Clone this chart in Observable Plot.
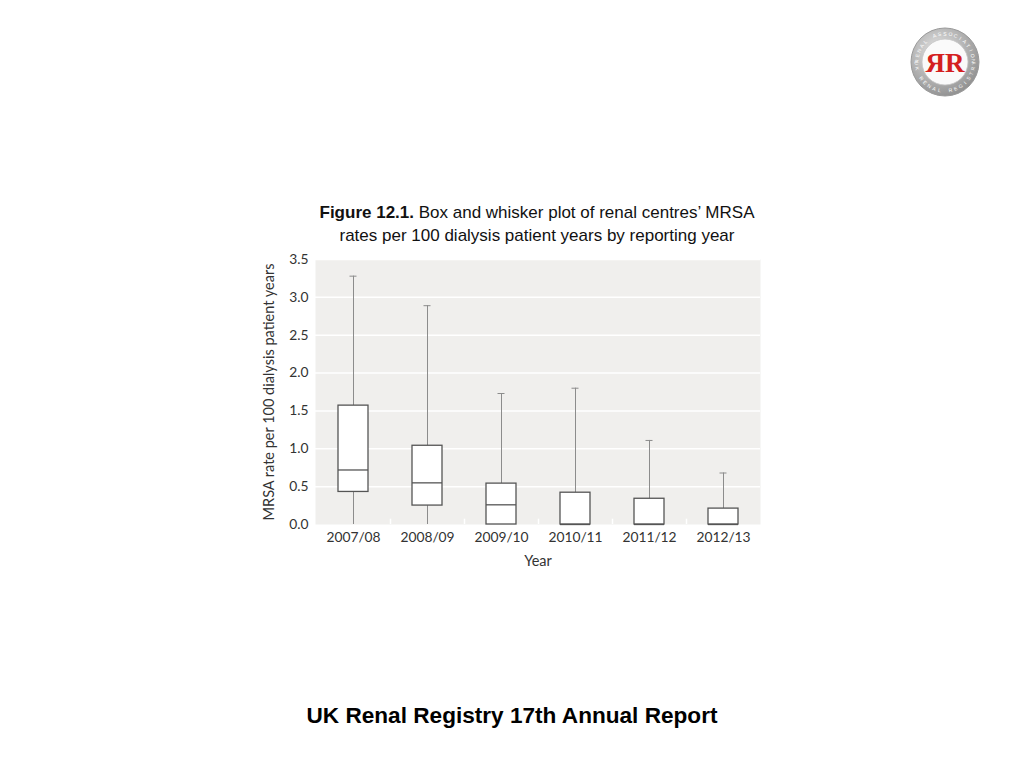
<!DOCTYPE html>
<html>
<head>
<meta charset="utf-8">
<script src="https://cdn.jsdelivr.net/npm/d3@7"></script>
<script src="https://cdn.jsdelivr.net/npm/@observablehq/plot@0.6"></script>
<style>
  html, body { margin: 0; padding: 0; background: #fff; }
  body { width: 1024px; height: 768px; position: relative; overflow: hidden; }
  #title { position: absolute; left: 237px; width: 600px; top: 201px; text-align: center;
           font-family: "Liberation Sans", Arial, sans-serif; font-size: 17px; line-height: 23px; color: #111; }
  #chart { position: absolute; left: 250px; top: 250px; }
  #footer { position: absolute; left: 0; width: 1024px; top: 703px; text-align: center;
            font-family: "Liberation Sans", Arial, sans-serif; font-weight: bold; font-size: 22.6px; color: #000; }
  #logo { position: absolute; left: 908px; top: 25px; }
</style>
</head>
<body>
<div id="title"><b>Figure 12.1.</b> Box and whisker plot of renal centres’ MRSA<br>rates per 100 dialysis patient years by reporting year</div>
<div id="chart"></div>
<div id="footer">UK Renal Registry 17th Annual Report</div>
<svg id="logo" width="74" height="74" viewBox="0 0 74 74">
  <defs>
    <radialGradient id="ring" cx="40%" cy="35%" r="70%">
      <stop offset="0%" stop-color="#e6e6e6"/>
      <stop offset="100%" stop-color="#8e8e8e"/>
    </radialGradient>
  </defs>
  <circle cx="37" cy="37" r="34" fill="url(#ring)" stroke="#9a9a9a" stroke-width="1"/>
  <circle cx="37" cy="37" r="23" fill="#fafafa" stroke="#c4c4c4" stroke-width="0.8"/>
  <g id="ringText" font-family="Liberation Sans, Arial" font-size="5" fill="#fdfdfd"></g>
  <text x="37" y="47" text-anchor="middle" font-family="Liberation Serif, Times New Roman, serif" font-weight="bold" font-size="27" fill="#d42020">ЯR</text>
</svg>
<script>
const years = ["2007/08", "2008/09", "2009/10", "2010/11", "2011/12", "2012/13"];
const whiskerLow = [0, 0, 0, 0, 0, 0];
const q1 = [0.43, 0.25, 0, 0, 0, 0];
const median = [0.72, 0.55, 0.26, 0, 0, 0];
const q3 = [1.57, 1.04, 0.54, 0.42, 0.34, 0.21];
const whiskerHigh = [3.28, 2.89, 1.73, 1.80, 1.11, 0.68];
const yTicks = [0, 0.5, 1.0, 1.5, 2.0, 2.5, 3.0, 3.5];
const logoTop = "RENAL ASSOCIATION";
const logoBottom = "UK RENAL REGISTRY";

// logo ring lettering, one letter per text element
(function () {
  const g = d3.select("#ringText");
  const r = 28.5, step = 11; // degrees per letter
  const place = (str, centerDeg, dir) => {
    const n = str.length;
    str.split("").forEach((ch, i) => {
      if (ch === " ") return;
      const a = centerDeg + dir * (i - (n - 1) / 2) * step;
      const rad = a * Math.PI / 180;
      const x = 37 + r * Math.sin(rad), y = 37 - r * Math.cos(rad);
      const rot = dir > 0 ? a : a + 180;
      g.append("text").attr("x", x).attr("y", y)
        .attr("text-anchor", "middle").attr("dominant-baseline", "central")
        .attr("transform", `rotate(${rot},${x},${y})`).text(ch);
    });
  };
  place(logoTop, 0, 1);
  place(logoBottom, 180, -1);
})();

const data = years.map((year, i) => ({
  year, lo: whiskerLow[i], q1: q1[i], med: median[i], q3: q3[i], hi: whiskerHigh[i]
}));

const font = "Lato, 'Noto Sans', sans-serif";

const chart = Plot.plot({
  width: 520,
  height: 330,
  marginLeft: 65,
  marginRight: 10,
  marginTop: 9,
  marginBottom: 56,
  style: { fontFamily: font, fontSize: "13.8px", color: "#333", background: "transparent" },
  x: {
    domain: years,
    paddingInner: 0.6,
    paddingOuter: 0.3,
    label: "Year",
    labelAnchor: "center",
    labelOffset: 41,
    tickSize: 0,
    tickPadding: 8
  },
  y: {
    domain: [0, 3.5],
    ticks: yTicks,
    tickFormat: d3.format(".1f"),
    label: "MRSA rate per 100 dialysis patient years",
    labelAnchor: "center",
    labelArrow: "none",
    labelOffset: 52,
    tickSize: 0,
    tickPadding: 7
  },
  marks: [
    Plot.frame({ fill: "#f0efed", stroke: null }),
    Plot.ruleY(yTicks.slice(1), { stroke: "#fff", strokeWidth: 1.5 }),
    Plot.ruleX(data.slice(1), { x: "year", y1: 0, y2: 0.07, dx: -37, stroke: "#fff", strokeWidth: 1.5 }),
    Plot.ruleX(data, { x: "year", y1: "q3", y2: "hi", stroke: "#8c8c8c", strokeWidth: 1 }),
    Plot.ruleX(data.filter(d => d.q1 > d.lo), { x: "year", y1: "lo", y2: "q1", stroke: "#8c8c8c", strokeWidth: 1 }),
    Plot.tickY(data, { x: "year", y: "hi", stroke: "#8c8c8c", strokeWidth: 1, insetLeft: 11.5, insetRight: 11.5 }),
    Plot.barY(data, { x: "year", y1: "q1", y2: "q3", fill: "#fff", stroke: "#555", strokeWidth: 1.3 }),
    Plot.tickY(data, { x: "year", y: "med", stroke: "#555", strokeWidth: 1.3 })
  ]
});
document.getElementById("chart").appendChild(chart);
// larger axis titles
d3.select(chart).selectAll("g[aria-label='x-axis label'] text, g[aria-label='y-axis label'] text")
  .style("font-size", "14.5px");
</script>
</body>
</html>
